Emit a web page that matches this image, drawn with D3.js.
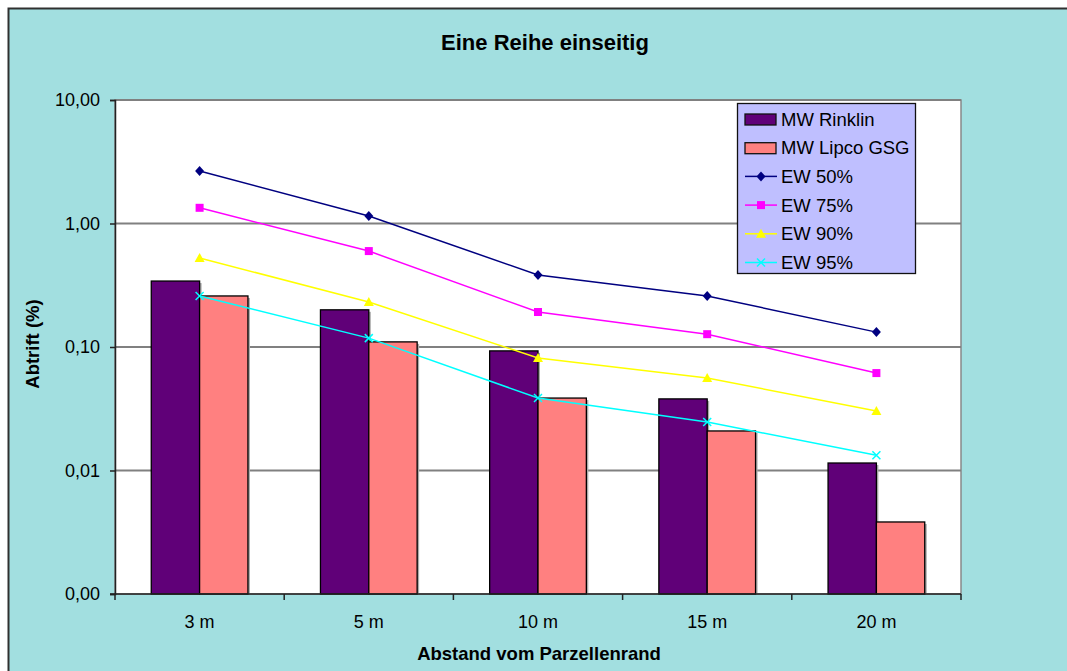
<!DOCTYPE html>
<html><head><meta charset="utf-8">
<script src="https://cdn.jsdelivr.net/npm/d3@7"></script>
<style>body{margin:0;background:#fff}svg{display:block;font-family:"Liberation Sans",Arial,sans-serif}</style>
</head><body>
<svg id="c" width="1067" height="671"></svg>
<script>
const categories = ["3 m","5 m","10 m","15 m","20 m"];
const mwRinklin = [0.342,0.200,0.093,0.038,0.0115];
const mwLipco = [0.259,0.110,0.0386,0.0209,0.00383];
const ew50 = [2.66,1.15,0.383,0.259,0.132];
const ew75 = [1.34,0.598,0.192,0.127,0.0615];
const ew90 = [0.526,0.231,0.0815,0.0561,0.0303];
const ew95 = [0.259,0.118,0.0386,0.0247,0.0133];
const yTicks = [10,1,0.1,0.01,0.001];
const yTickLabels = ["10,00","1,00","0,10","0,01","0,00"];

const svg = d3.select("#c");
const L=115,R=961,T=100,B=594;

svg.append("rect").attr("x",8.5).attr("y",8.5).attr("width",1070).attr("height",680)
  .attr("fill","#A2DFE0").attr("stroke","#303030").attr("stroke-width",2);

svg.append("rect").attr("x",L).attr("y",T).attr("width",R-L).attr("height",B-T)
  .attr("fill","#fff").attr("stroke","#888").attr("stroke-width",1.5);

const x = d3.scaleBand().domain(categories).range([L,R]).paddingInner(0).paddingOuter(0);
const y = d3.scaleLog().domain([0.001,10]).range([B,T]);

// gridlines
svg.append("g").selectAll("line").data(yTicks.slice(0,4)).join("line")
  .attr("x1",L).attr("x2",R).attr("y1",d=>y(d)).attr("y2",d=>y(d))
  .attr("stroke","#808080").attr("stroke-width",2);

// bars
const bw = x.bandwidth()/3.5;
const series = [{vals:mwRinklin,color:"#600078",off:-1},{vals:mwLipco,color:"#FF8080",off:0}];
series.forEach(s=>{
  const g=svg.append("g");
  g.selectAll("rect.sh").data(s.vals).join("rect")
    .attr("x",(d,i)=>x(categories[i])+x.bandwidth()/2+s.off*bw+2)
    .attr("y",d=>y(d)+2).attr("width",bw).attr("height",d=>B-y(d)-2)
    .attr("fill","#aaa");
});
series.forEach(s=>{
  const g=svg.append("g");
  g.selectAll("rect.b").data(s.vals).join("rect")
    .attr("x",(d,i)=>x(categories[i])+x.bandwidth()/2+s.off*bw)
    .attr("y",d=>y(d)).attr("width",bw).attr("height",d=>B-y(d))
    .attr("fill",s.color).attr("stroke","#000").attr("stroke-width",1.3);
});

// axes
const yAxis = d3.axisLeft(y).tickValues(yTicks).tickFormat(d=>yTickLabels[yTicks.indexOf(d)]).tickSize(5).tickPadding(10);
const ga = svg.append("g").attr("transform",`translate(${L},0)`).call(yAxis);
ga.attr("font-size",18).attr("font-family","Liberation Sans, Arial");
ga.select(".domain").attr("stroke","#222").attr("stroke-width",1.5);
ga.selectAll(".tick line").attr("stroke","#222").attr("stroke-width",1.5);
ga.selectAll("text").attr("fill","#000");

const xb = svg.append("g");
xb.append("line").attr("x1",L-5).attr("x2",R).attr("y1",B).attr("y2",B).attr("stroke","#222").attr("stroke-width",1.5);
const bounds = categories.map(c=>x(c)).concat([R]);
xb.selectAll("line.t").data(bounds).join("line").attr("class","t")
  .attr("x1",d=>d).attr("x2",d=>d).attr("y1",B).attr("y2",B+6).attr("stroke","#222").attr("stroke-width",1.5);
xb.selectAll("text").data(categories).join("text")
  .attr("x",d=>x(d)+x.bandwidth()/2).attr("y",628).attr("text-anchor","middle")
  .attr("font-size",18).text(d=>d);

// lines
const cx = (i)=>x(categories[i])+x.bandwidth()/2;
const line = d3.line().x((d,i)=>cx(i)).y(d=>y(d));
const lineSeries = [
  {name:"EW 50%",vals:ew50,color:"#000080",m:"diamond"},
  {name:"EW 75%",vals:ew75,color:"#FF00FF",m:"square"},
  {name:"EW 90%",vals:ew90,color:"#FFFF00",m:"triangle"},
  {name:"EW 95%",vals:ew95,color:"#00FFFF",m:"x"}
];
function marker(g,type,px,py,color){
  if(type==="diamond") g.append("path").attr("d",`M${px},${py-5}L${px+4.5},${py}L${px},${py+5}L${px-4.5},${py}Z`).attr("fill",color);
  else if(type==="square") g.append("rect").attr("x",px-4).attr("y",py-4).attr("width",8).attr("height",8).attr("fill",color);
  else if(type==="triangle") g.append("path").attr("d",`M${px},${py-5}L${px+5},${py+4}L${px-5},${py+4}Z`).attr("fill",color);
  else g.append("path").attr("d",`M${px-4},${py-4}L${px+4},${py+4}M${px-4},${py+4}L${px+4},${py-4}`).attr("stroke",color).attr("stroke-width",1.5);
}
lineSeries.forEach(s=>{
  svg.append("path").datum(s.vals).attr("d",line).attr("fill","none").attr("stroke",s.color).attr("stroke-width",1.5);
  const g=svg.append("g");
  s.vals.forEach((v,i)=>marker(g,s.m,cx(i),y(v),s.color));
});

// legend
const lg = svg.append("g");
lg.append("rect").attr("x",737.5).attr("y",103.5).attr("width",178).attr("height",170)
  .attr("fill","#BFBFFF").attr("stroke","#111").attr("stroke-width",1.3);
const legendItems = [
  {name:"MW Rinklin",type:"bar",color:"#600078"},
  {name:"MW Lipco GSG",type:"bar",color:"#FF8080"}
].concat(lineSeries.map(s=>({name:s.name,type:"line",color:s.color,m:s.m})));
legendItems.forEach((it,i)=>{
  const yy = 119+i*28.7;
  if(it.type==="bar") lg.append("rect").attr("x",745).attr("y",yy-5).attr("width",31).attr("height",11).attr("fill",it.color).attr("stroke","#111").attr("stroke-width",1.3);
  else { lg.append("line").attr("x1",745).attr("x2",777).attr("y1",yy).attr("y2",yy).attr("stroke",it.color).attr("stroke-width",1.5); marker(lg,it.m,761,yy,it.color); }
  lg.append("text").attr("x",781).attr("y",yy+6.5).attr("font-size",18.5).text(it.name);
});

// titles
svg.append("text").attr("x",545).attr("y",50).attr("text-anchor","middle").attr("font-size",22).attr("font-weight","bold").text("Eine Reihe einseitig");
svg.append("text").attr("x",539).attr("y",660).attr("text-anchor","middle").attr("font-size",18.5).attr("font-weight","bold").text("Abstand vom Parzellenrand");
svg.append("text").attr("transform","translate(39,344) rotate(-90)").attr("text-anchor","middle").attr("font-size",18.5).attr("font-weight","bold").text("Abtrift (%)");
</script>
</body></html>
